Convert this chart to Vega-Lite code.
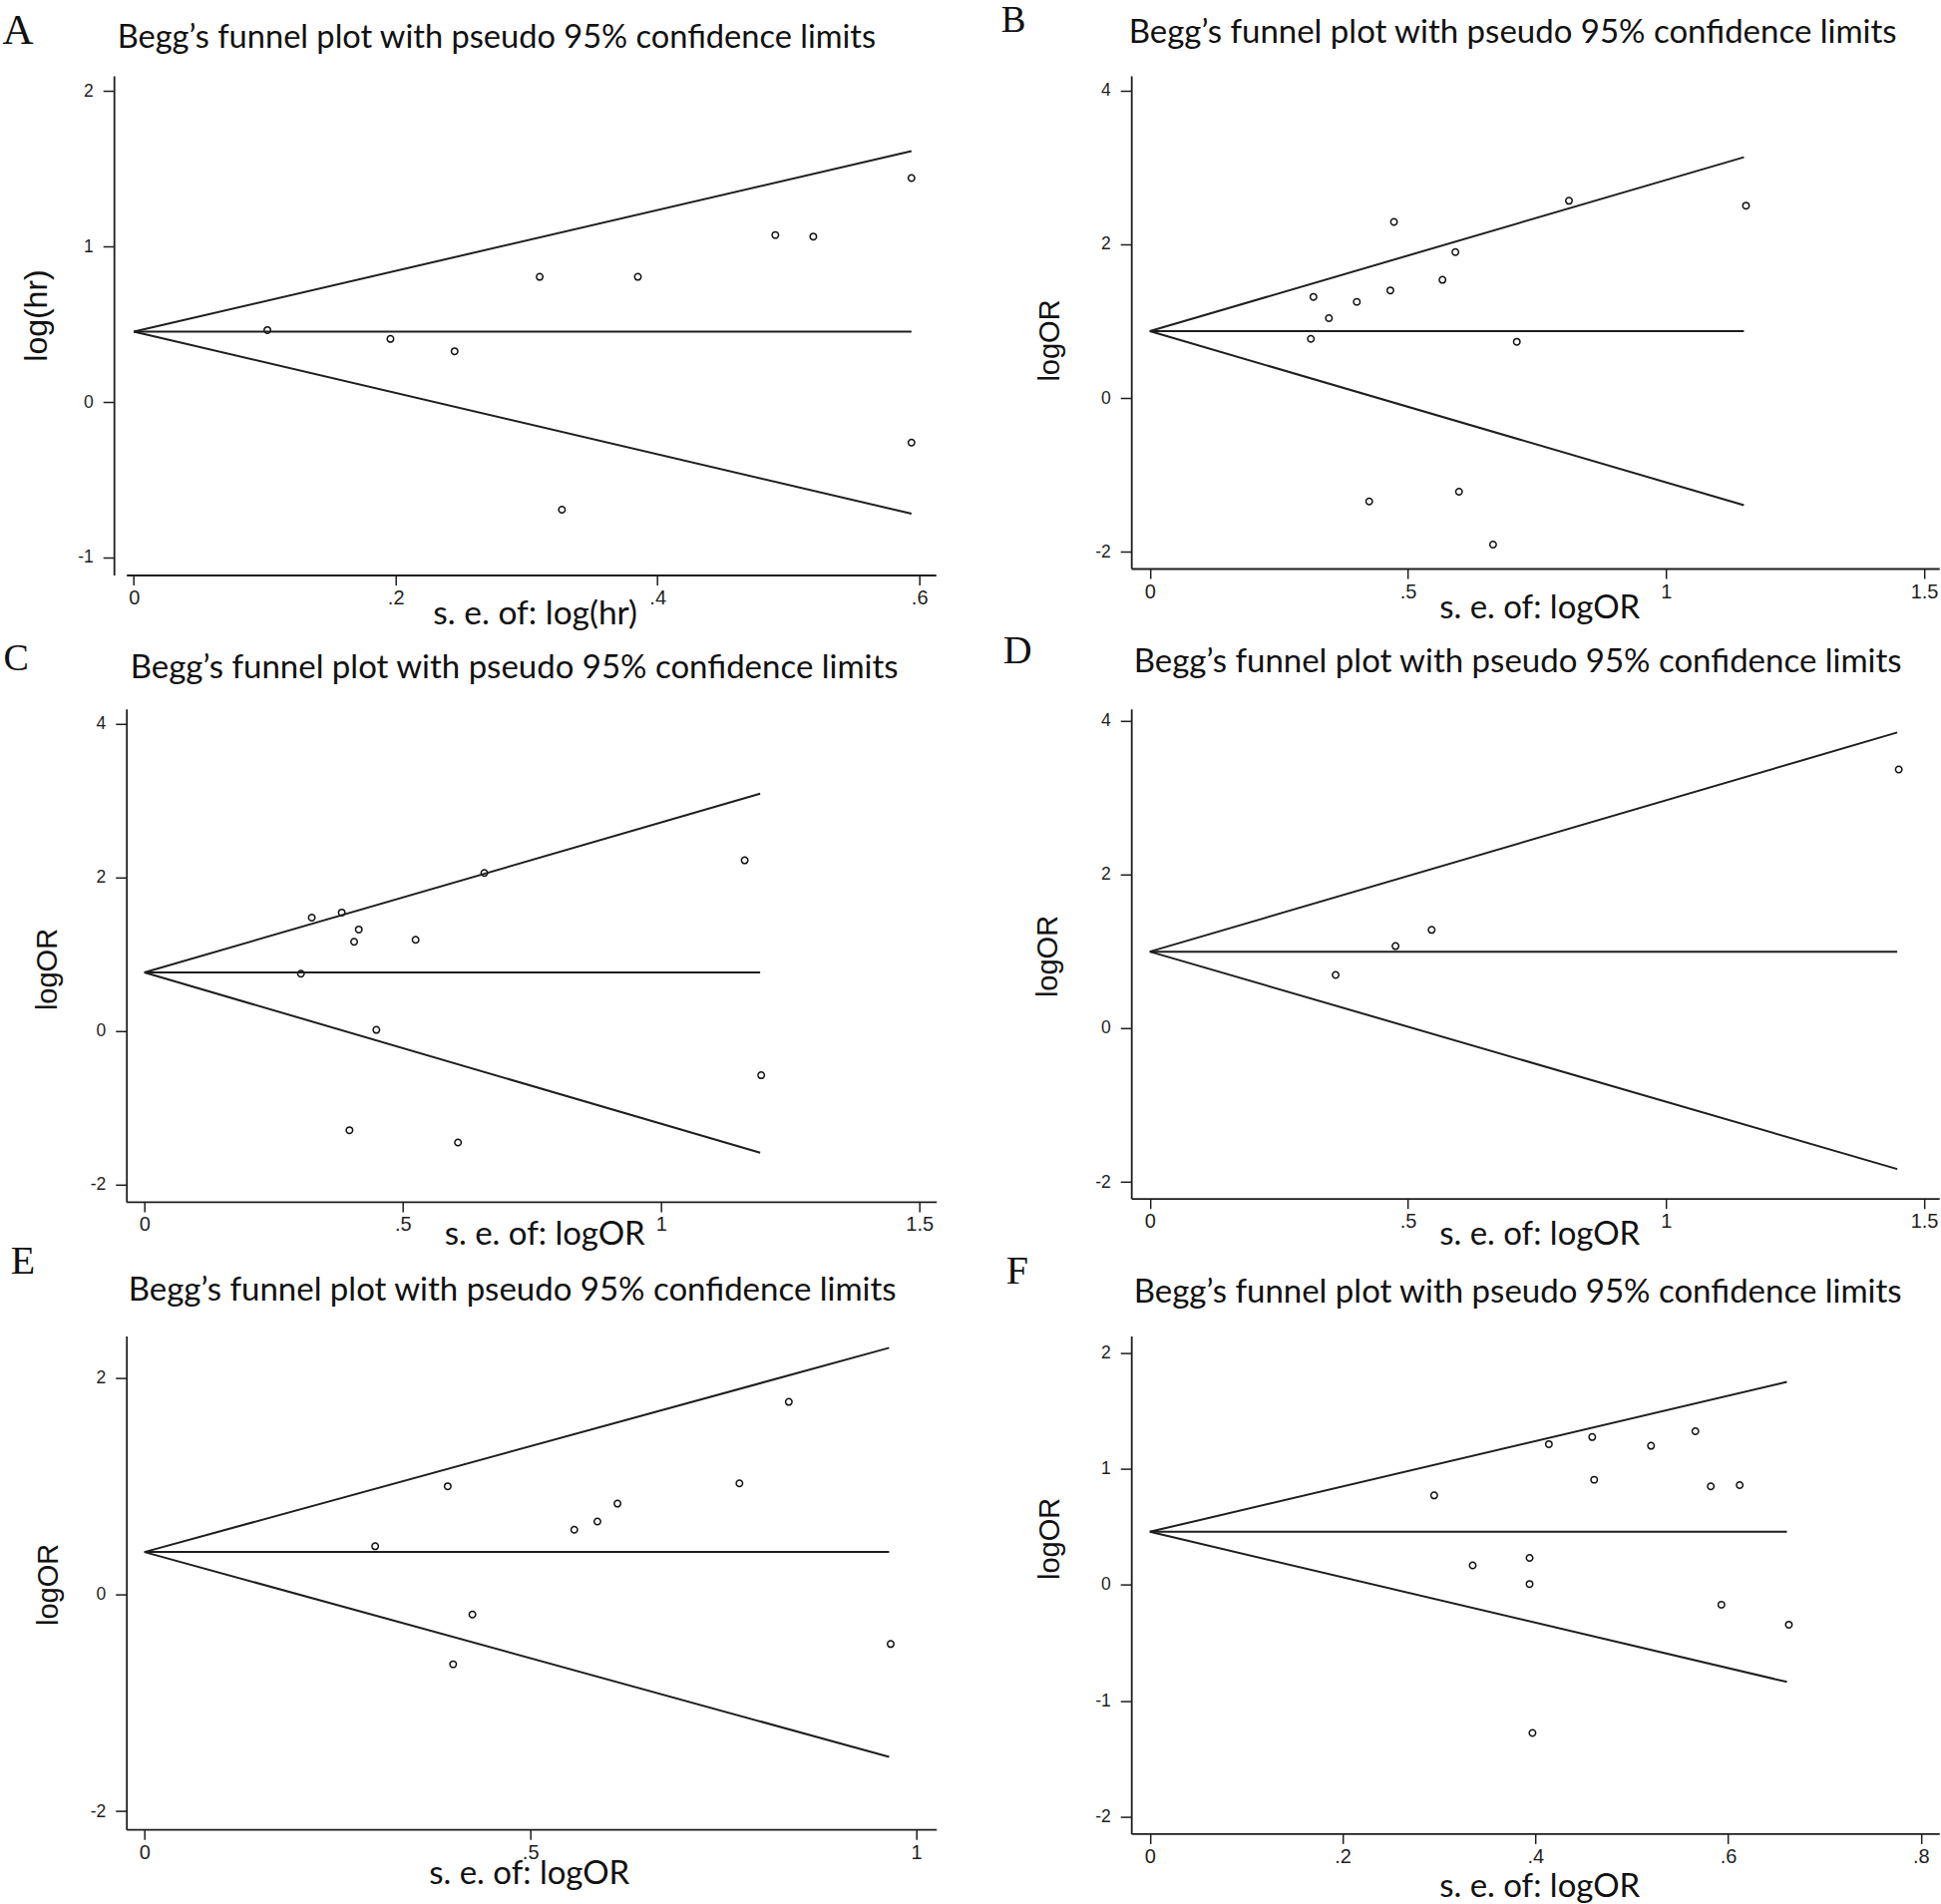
{
  "$schema": "https://vega.github.io/schema/vega-lite/v6.json",
  "background": "white",
  "padding": {"left": 1.7, "top": 1, "right": 0, "bottom": 0},
  "config": {
    "view": {"stroke": null},
    "axis": {
      "grid": false,
      "domainColor": "#1e1e1e",
      "domainWidth": 1.8,
      "tickColor": "#1e1e1e",
      "tickWidth": 1.5,
      "labelColor": "#1e1e1e",
      "labelFont": "Liberation Sans",
      "labelFlush": false,
      "labelOverlap": false,
      "titleColor": "#111111",
      "titleFontWeight": "normal"
    }
  },
  "datasets": {
    "ptsA": [
      {"se": 0.102, "est": 0.462}, {"se": 0.196, "est": 0.405}, {"se": 0.245, "est": 0.326},
      {"se": 0.310, "est": 0.804}, {"se": 0.327, "est": -0.692}, {"se": 0.385, "est": 0.804},
      {"se": 0.490, "est": 1.073}, {"se": 0.519, "est": 1.063}, {"se": 0.594, "est": 1.439},
      {"se": 0.594, "est": -0.261}
    ],
    "lnA": [
      {"line": "upper", "se": 0, "est": 0.452}, {"line": "upper", "se": 0.594, "est": 1.612},
      {"line": "mid", "se": 0, "est": 0.452}, {"line": "mid", "se": 0.594, "est": 0.452},
      {"line": "lower", "se": 0, "est": 0.452}, {"line": "lower", "se": 0.594, "est": -0.718}
    ],
    "ptsB": [
      {"se": 0.312, "est": 0.768}, {"se": 0.317, "est": 1.314}, {"se": 0.347, "est": 1.038},
      {"se": 0.401, "est": 1.250}, {"se": 0.425, "est": -1.346}, {"se": 0.466, "est": 1.399},
      {"se": 0.473, "est": 2.289}, {"se": 0.567, "est": 1.536}, {"se": 0.592, "est": 1.897},
      {"se": 0.599, "est": -1.219}, {"se": 0.665, "est": -1.907}, {"se": 0.711, "est": 0.731},
      {"se": 0.812, "est": 2.564}, {"se": 1.155, "est": 2.501}
    ],
    "lnB": [
      {"line": "upper", "se": 0, "est": 0.869}, {"line": "upper", "se": 1.151, "est": 3.131},
      {"line": "mid", "se": 0, "est": 0.869}, {"line": "mid", "se": 1.151, "est": 0.869},
      {"line": "lower", "se": 0, "est": 0.869}, {"line": "lower", "se": 1.151, "est": -1.395}
    ],
    "ptsC": [
      {"se": 0.303, "est": 0.746}, {"se": 0.324, "est": 1.477}, {"se": 0.382, "est": 1.544},
      {"se": 0.406, "est": 1.163}, {"se": 0.415, "est": 1.323}, {"se": 0.397, "est": -1.292},
      {"se": 0.449, "est": 0.015}, {"se": 0.525, "est": 1.189}, {"se": 0.607, "est": -1.452},
      {"se": 0.658, "est": 2.059}, {"se": 1.162, "est": 2.224}, {"se": 1.194, "est": -0.577}
    ],
    "lnC": [
      {"line": "upper", "se": 0, "est": 0.762}, {"line": "upper", "se": 1.192, "est": 3.093},
      {"line": "mid", "se": 0, "est": 0.762}, {"line": "mid", "se": 1.192, "est": 0.762},
      {"line": "lower", "se": 0, "est": 0.762}, {"line": "lower", "se": 1.192, "est": -1.585}
    ],
    "ptsD": [
      {"se": 0.360, "est": 0.694}, {"se": 0.476, "est": 1.069}, {"se": 0.546, "est": 1.280},
      {"se": 1.451, "est": 3.366}
    ],
    "lnD": [
      {"line": "upper", "se": 0, "est": 0.997}, {"line": "upper", "se": 1.448, "est": 3.847},
      {"line": "mid", "se": 0, "est": 0.997}, {"line": "mid", "se": 1.448, "est": 0.997},
      {"line": "lower", "se": 0, "est": 0.997}, {"line": "lower", "se": 1.448, "est": -1.830}
    ],
    "ptsE": [
      {"se": 0.299, "est": 0.447}, {"se": 0.393, "est": 1.001}, {"se": 0.400, "est": -0.642},
      {"se": 0.425, "est": -0.183}, {"se": 0.557, "est": 0.600}, {"se": 0.587, "est": 0.676},
      {"se": 0.613, "est": 0.841}, {"se": 0.771, "est": 1.028}, {"se": 0.835, "est": 1.780},
      {"se": 0.967, "est": -0.455}
    ],
    "lnE": [
      {"line": "upper", "se": 0, "est": 0.394}, {"line": "upper", "se": 0.965, "est": 2.279},
      {"line": "mid", "se": 0, "est": 0.394}, {"line": "mid", "se": 0.965, "est": 0.394},
      {"line": "lower", "se": 0, "est": 0.394}, {"line": "lower", "se": 0.965, "est": -1.497}
    ],
    "ptsF": [
      {"se": 0.295, "est": 0.771}, {"se": 0.335, "est": 0.168}, {"se": 0.394, "est": 0.232},
      {"se": 0.394, "est": 0.007}, {"se": 0.397, "est": -1.277}, {"se": 0.414, "est": 1.213},
      {"se": 0.459, "est": 1.274}, {"se": 0.461, "est": 0.906}, {"se": 0.520, "est": 1.199},
      {"se": 0.566, "est": 1.324}, {"se": 0.582, "est": 0.849}, {"se": 0.612, "est": 0.860},
      {"se": 0.593, "est": -0.171}, {"se": 0.663, "est": -0.343}
    ],
    "lnF": [
      {"line": "upper", "se": 0, "est": 0.457}, {"line": "upper", "se": 0.661, "est": 1.750},
      {"line": "mid", "se": 0, "est": 0.457}, {"line": "mid", "se": 0.661, "est": 0.457},
      {"line": "lower", "se": 0, "est": 0.457}, {"line": "lower", "se": 0.661, "est": -0.837}
    ]
  },
  "concat": [
    {
      "width": 811.5, "height": 500.5,
      "layer": [
        {
          "data": {"name": "ptsA"},
          "mark": {"type": "point", "shape": "circle", "filled": false, "size": 42, "color": "#111111", "strokeWidth": 1.5, "opacity": 1},
          "encoding": {
            "x": {"field": "se", "type": "quantitative", "scale": {"domain": [-0.00571, 0.61257], "nice": false, "zero": false},
              "axis": {"orient": "bottom", "values": [0, 0.2, 0.4, 0.6], "labelExpr": "replace(toString(datum.value), '0.', '.')", "tickSize": 10, "labelPadding": 3, "labelFontSize": 20,
                "title": "s. e. of: log(hr)", "titleFont": "Lato", "titleFontSize": 33.5, "titleX": 409.5, "titleY": 49, "titleAlign": "center", "titleBaseline": "alphabetic"}},
            "y": {"field": "est", "type": "quantitative", "scale": {"domain": [-1.1122, 2.0962], "nice": false, "zero": false},
              "axis": {"orient": "left", "offset": 12.5, "values": [-1, 0, 1, 2], "labelExpr": "toString(datum.value)", "tickSize": 11, "labelPadding": 10, "labelFontSize": 17.5,
                "title": "log(hr)", "titleFont": "Liberation Sans", "titleFontSize": 32, "titleAngle": 270, "titleX": -67.3, "titleY": 240, "titleAlign": "center", "titleBaseline": "alphabetic"}}
          }
        },
        {
          "data": {"name": "lnA"},
          "mark": {"type": "line", "color": "#1e1e1e", "strokeWidth": 2},
          "encoding": {
            "x": {"field": "se", "type": "quantitative", "scale": {"domain": [-0.00571, 0.61257], "nice": false, "zero": false},
              "axis": {"orient": "top", "domain": false, "ticks": false, "labels": false, "title": "Begg’s funnel plot with pseudo 95% confidence limits", "titleFont": "Lato", "titleFontSize": 32.6, "titleX": -9.5, "titleY": -28.3, "titleAlign": "left", "titleBaseline": "alphabetic", "titleAngle": 0}},
            "y": {"field": "est", "type": "quantitative", "scale": {"domain": [-1.1122, 2.0962], "nice": false, "zero": false},
              "axis": {"orient": "right", "domain": false, "ticks": false, "labels": false, "title": "A", "titleFont": "Liberation Serif", "titleFontSize": 43, "titleAngle": 0, "titleX": -936.3, "titleY": -32.3, "titleAlign": "left", "titleBaseline": "alphabetic"}},
            "detail": {"field": "line", "type": "nominal"}
          }
        }
      ],
      "resolve": {"axis": {"x": "independent", "y": "independent"}}
    },
    {
      "width": 810, "height": 494,
      "layer": [
        {
          "data": {"name": "ptsB"},
          "mark": {"type": "point", "shape": "circle", "filled": false, "size": 42, "color": "#111111", "strokeWidth": 1.5, "opacity": 1},
          "encoding": {
            "x": {"field": "se", "type": "quantitative", "scale": {"domain": [-0.0359, 1.5293], "nice": false, "zero": false},
              "axis": {"orient": "bottom", "values": [0, 0.5, 1, 1.5], "labelExpr": "replace(toString(datum.value), '0.', '.')", "tickSize": 10, "labelPadding": 3, "labelFontSize": 20,
                "title": "s. e. of: logOR", "titleFont": "Lato", "titleFontSize": 33, "titleX": 409, "titleY": 49, "titleAlign": "center", "titleBaseline": "alphabetic"}},
            "y": {"field": "est", "type": "quantitative", "scale": {"domain": [-2.2179, 4.1894], "nice": false, "zero": false},
              "axis": {"orient": "left", "values": [-2, 0, 2, 4], "labelExpr": "toString(datum.value)", "tickSize": 11, "labelPadding": 10, "labelFontSize": 17.5,
                "title": "logOR", "titleFont": "Liberation Sans", "titleFontSize": 29, "titleAngle": 270, "titleX": -73.1, "titleY": 265, "titleAlign": "center", "titleBaseline": "alphabetic"}}
          }
        },
        {
          "data": {"name": "lnB"},
          "mark": {"type": "line", "color": "#1e1e1e", "strokeWidth": 2},
          "encoding": {
            "x": {"field": "se", "type": "quantitative", "scale": {"domain": [-0.0359, 1.5293], "nice": false, "zero": false},
              "axis": {"orient": "top", "domain": false, "ticks": false, "labels": false, "title": "Begg’s funnel plot with pseudo 95% confidence limits", "titleFont": "Lato", "titleFontSize": 33, "titleX": -3, "titleY": -33.3, "titleAlign": "left", "titleBaseline": "alphabetic", "titleAngle": 0}},
            "y": {"field": "est", "type": "quantitative", "scale": {"domain": [-2.2179, 4.1894], "nice": false, "zero": false},
              "axis": {"orient": "right", "domain": false, "ticks": false, "labels": false, "title": "B", "titleFont": "Liberation Serif", "titleFontSize": 37, "titleAngle": 0, "titleX": -941, "titleY": -44.3, "titleAlign": "left", "titleBaseline": "alphabetic"}},
            "detail": {"field": "line", "type": "nominal"}
          }
        }
      ],
      "resolve": {"axis": {"x": "independent", "y": "independent"}}
    },
    {
      "width": 812, "height": 494.1,
      "layer": [
        {
          "data": {"name": "ptsC"},
          "mark": {"type": "point", "shape": "circle", "filled": false, "size": 42, "color": "#111111", "strokeWidth": 1.5, "opacity": 1},
          "encoding": {
            "x": {"field": "se", "type": "quantitative", "scale": {"domain": [-0.0349, 1.5329], "nice": false, "zero": false},
              "axis": {"orient": "bottom", "values": [0, 0.5, 1, 1.5], "labelExpr": "replace(toString(datum.value), '0.', '.')", "tickSize": 10, "labelPadding": 3, "labelFontSize": 20,
                "title": "s. e. of: logOR", "titleFont": "Lato", "titleFontSize": 33, "titleX": 419, "titleY": 42.6, "titleAlign": "center", "titleBaseline": "alphabetic"}},
            "y": {"field": "est", "type": "quantitative", "scale": {"domain": [-2.2245, 4.196], "nice": false, "zero": false},
              "axis": {"orient": "left", "values": [-2, 0, 2, 4], "labelExpr": "toString(datum.value)", "tickSize": 11, "labelPadding": 10, "labelFontSize": 17.5,
                "title": "logOR", "titleFont": "Liberation Sans", "titleFontSize": 29, "titleAngle": 270, "titleX": -70.5, "titleY": 260.7, "titleAlign": "center", "titleBaseline": "alphabetic"}}
          }
        },
        {
          "data": {"name": "lnC"},
          "mark": {"type": "line", "color": "#1e1e1e", "strokeWidth": 2},
          "encoding": {
            "x": {"field": "se", "type": "quantitative", "scale": {"domain": [-0.0349, 1.5329], "nice": false, "zero": false},
              "axis": {"orient": "top", "domain": false, "ticks": false, "labels": false, "title": "Begg’s funnel plot with pseudo 95% confidence limits", "titleFont": "Lato", "titleFontSize": 33, "titleX": 3.5, "titleY": -31.3, "titleAlign": "left", "titleBaseline": "alphabetic", "titleAngle": 0}},
            "y": {"field": "est", "type": "quantitative", "scale": {"domain": [-2.2245, 4.196], "nice": false, "zero": false},
              "axis": {"orient": "right", "domain": false, "ticks": false, "labels": false, "title": "C", "titleFont": "Liberation Serif", "titleFontSize": 38, "titleAngle": 0, "titleX": -935.8, "titleY": -39.3, "titleAlign": "left", "titleBaseline": "alphabetic"}},
            "detail": {"field": "line", "type": "nominal"}
          }
        }
      ],
      "resolve": {"axis": {"x": "independent", "y": "independent"}}
    },
    {
      "width": 810, "height": 490.9,
      "layer": [
        {
          "data": {"name": "ptsD"},
          "mark": {"type": "point", "shape": "circle", "filled": false, "size": 42, "color": "#111111", "strokeWidth": 1.5, "opacity": 1},
          "encoding": {
            "x": {"field": "se", "type": "quantitative", "scale": {"domain": [-0.0359, 1.5293], "nice": false, "zero": false},
              "axis": {"orient": "bottom", "values": [0, 0.5, 1, 1.5], "labelExpr": "replace(toString(datum.value), '0.', '.')", "tickSize": 10, "labelPadding": 3, "labelFontSize": 20,
                "title": "s. e. of: logOR", "titleFont": "Lato", "titleFontSize": 33, "titleX": 409, "titleY": 45.8, "titleAlign": "center", "titleBaseline": "alphabetic"}},
            "y": {"field": "est", "type": "quantitative", "scale": {"domain": [-2.214, 4.153], "nice": false, "zero": false},
              "axis": {"orient": "left", "values": [-2, 0, 2, 4], "labelExpr": "toString(datum.value)", "tickSize": 11, "labelPadding": 10, "labelFontSize": 17.5,
                "title": "logOR", "titleFont": "Liberation Sans", "titleFontSize": 29, "titleAngle": 270, "titleX": -75, "titleY": 247.7, "titleAlign": "center", "titleBaseline": "alphabetic"}}
          }
        },
        {
          "data": {"name": "lnD"},
          "mark": {"type": "line", "color": "#1e1e1e", "strokeWidth": 2},
          "encoding": {
            "x": {"field": "se", "type": "quantitative", "scale": {"domain": [-0.0359, 1.5293], "nice": false, "zero": false},
              "axis": {"orient": "top", "domain": false, "ticks": false, "labels": false, "title": "Begg’s funnel plot with pseudo 95% confidence limits", "titleFont": "Lato", "titleFontSize": 33, "titleX": 2, "titleY": -37.3, "titleAlign": "left", "titleBaseline": "alphabetic", "titleAngle": 0}},
            "y": {"field": "est", "type": "quantitative", "scale": {"domain": [-2.214, 4.153], "nice": false, "zero": false},
              "axis": {"orient": "right", "domain": false, "ticks": false, "labels": false, "title": "D", "titleFont": "Liberation Serif", "titleFontSize": 40, "titleAngle": 0, "titleX": -939, "titleY": -46.3, "titleAlign": "left", "titleBaseline": "alphabetic"}},
            "detail": {"field": "line", "type": "nominal"}
          }
        }
      ],
      "resolve": {"axis": {"x": "independent", "y": "independent"}}
    },
    {
      "width": 812, "height": 494.6,
      "layer": [
        {
          "data": {"name": "ptsE"},
          "mark": {"type": "point", "shape": "circle", "filled": false, "size": 42, "color": "#111111", "strokeWidth": 1.5, "opacity": 1},
          "encoding": {
            "x": {"field": "se", "type": "quantitative", "scale": {"domain": [-0.0234, 1.0261], "nice": false, "zero": false},
              "axis": {"orient": "bottom", "values": [0, 0.5, 1], "labelExpr": "replace(toString(datum.value), '0.', '.')", "tickSize": 10, "labelPadding": 3, "labelFontSize": 20,
                "title": "s. e. of: logOR", "titleFont": "Lato", "titleFontSize": 33, "titleX": 403.5, "titleY": 53.9, "titleAlign": "center", "titleBaseline": "alphabetic"}},
            "y": {"field": "est", "type": "quantitative", "scale": {"domain": [-2.1667, 2.3877], "nice": false, "zero": false},
              "axis": {"orient": "left", "values": [-2, 0, 2], "labelExpr": "toString(datum.value)", "tickSize": 11, "labelPadding": 10, "labelFontSize": 17.5,
                "title": "logOR", "titleFont": "Liberation Sans", "titleFontSize": 29, "titleAngle": 270, "titleX": -69.6, "titleY": 248.8, "titleAlign": "center", "titleBaseline": "alphabetic"}}
          }
        },
        {
          "data": {"name": "lnE"},
          "mark": {"type": "line", "color": "#1e1e1e", "strokeWidth": 2},
          "encoding": {
            "x": {"field": "se", "type": "quantitative", "scale": {"domain": [-0.0234, 1.0261], "nice": false, "zero": false},
              "axis": {"orient": "top", "domain": false, "ticks": false, "labels": false, "title": "Begg’s funnel plot with pseudo 95% confidence limits", "titleFont": "Lato", "titleFontSize": 33, "titleX": 1.5, "titleY": -35.7, "titleAlign": "left", "titleBaseline": "alphabetic", "titleAngle": 0}},
            "y": {"field": "est", "type": "quantitative", "scale": {"domain": [-2.1667, 2.3877], "nice": false, "zero": false},
              "axis": {"orient": "right", "domain": false, "ticks": false, "labels": false, "title": "E", "titleFont": "Liberation Serif", "titleFontSize": 40, "titleAngle": 0, "titleX": -928.5, "titleY": -63, "titleAlign": "left", "titleBaseline": "alphabetic"}},
            "detail": {"field": "line", "type": "nominal"}
          }
        }
      ],
      "resolve": {"axis": {"x": "independent", "y": "independent"}}
    },
    {
      "width": 810, "height": 498.8,
      "layer": [
        {
          "data": {"name": "ptsF"},
          "mark": {"type": "point", "shape": "circle", "filled": false, "size": 42, "color": "#111111", "strokeWidth": 1.5, "opacity": 1},
          "encoding": {
            "x": {"field": "se", "type": "quantitative", "scale": {"domain": [-0.01925, 0.819], "nice": false, "zero": false},
              "axis": {"orient": "bottom", "values": [0, 0.2, 0.4, 0.6, 0.8], "labelExpr": "replace(toString(datum.value), '0.', '.')", "tickSize": 10, "labelPadding": 3, "labelFontSize": 20,
                "title": "s. e. of: logOR", "titleFont": "Lato", "titleFontSize": 33, "titleX": 409, "titleY": 63, "titleAlign": "center", "titleBaseline": "alphabetic"}},
            "y": {"field": "est", "type": "quantitative", "scale": {"domain": [-2.1445, 2.1445], "nice": false, "zero": false},
              "axis": {"orient": "left", "values": [-2, -1, 0, 1, 2], "labelExpr": "toString(datum.value)", "tickSize": 11, "labelPadding": 10, "labelFontSize": 17.5,
                "title": "logOR", "titleFont": "Liberation Sans", "titleFontSize": 29, "titleAngle": 270, "titleX": -73, "titleY": 202.8, "titleAlign": "center", "titleBaseline": "alphabetic"}}
          }
        },
        {
          "data": {"name": "lnF"},
          "mark": {"type": "line", "color": "#1e1e1e", "strokeWidth": 2},
          "encoding": {
            "x": {"field": "se", "type": "quantitative", "scale": {"domain": [-0.01925, 0.819], "nice": false, "zero": false},
              "axis": {"orient": "top", "domain": false, "ticks": false, "labels": false, "title": "Begg’s funnel plot with pseudo 95% confidence limits", "titleFont": "Lato", "titleFontSize": 33, "titleX": 2, "titleY": -33.6, "titleAlign": "left", "titleBaseline": "alphabetic", "titleAngle": 0}},
            "y": {"field": "est", "type": "quantitative", "scale": {"domain": [-2.1445, 2.1445], "nice": false, "zero": false},
              "axis": {"orient": "right", "domain": false, "ticks": false, "labels": false, "title": "F", "titleFont": "Liberation Serif", "titleFontSize": 40, "titleAngle": 0, "titleX": -936, "titleY": -53, "titleAlign": "left", "titleBaseline": "alphabetic"}},
            "detail": {"field": "line", "type": "nominal"}
          }
        }
      ],
      "resolve": {"axis": {"x": "independent", "y": "independent"}}
    }
  ],
  "columns": 2,
  "spacing": {"row": 133.8, "column": 195.5},
  "bounds": "flush"
}
